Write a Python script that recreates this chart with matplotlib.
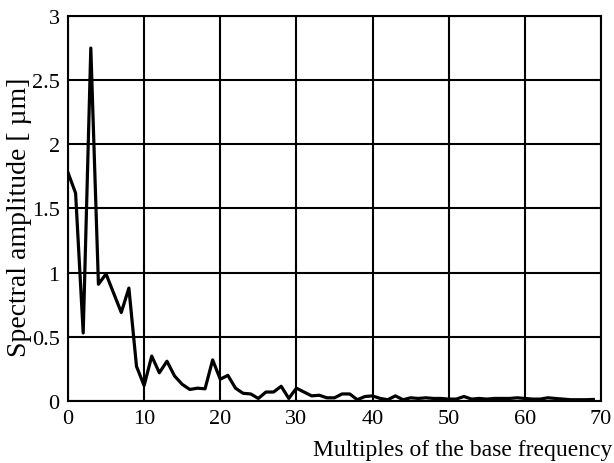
import numpy as np
import matplotlib.pyplot as plt

# harmonic number and amplitude
harmonic = np.arange(70)
amplitude = [1.78, 1.62, 0.53, 2.75, 0.91, 0.99, 0.84, 0.69, 0.88, 0.27,
             0.12, 0.35, 0.22, 0.31, 0.195, 0.13, 0.09, 0.10, 0.095, 0.32,
             0.17, 0.20, 0.10, 0.06, 0.055, 0.02, 0.07, 0.07, 0.115, 0.02,
             0.10, 0.07, 0.04, 0.045, 0.025, 0.025, 0.055, 0.055, 0.01, 0.035,
             0.04, 0.02, 0.01, 0.04, 0.01, 0.025, 0.02, 0.025, 0.02, 0.02,
             0.015, 0.015, 0.035, 0.015, 0.02, 0.015, 0.02, 0.02, 0.02, 0.025,
             0.02, 0.015, 0.015, 0.025, 0.02, 0.015, 0.01, 0.01, 0.01, 0.012]
xticks = [0, 10, 20, 30, 40, 50, 60, 70]
yticks = [0, 0.5, 1, 1.5, 2, 2.5, 3]
ytick_labels = ['0', '0.5', '1', '1.5', '2', '2.5', '3']

plt.rcParams['font.family'] = ['Liberation Serif', 'DejaVu Serif']

fig = plt.figure(figsize=(6.14, 4.64), dpi=100)
ax = fig.add_axes([0.1107, 0.1336, 0.8681, 0.8298])

ax.plot(harmonic, amplitude, color='black', lw=2.3, zorder=3)

ax.set_xlim(0, 70)
ax.set_ylim(0, 3)
ax.set_xticks(xticks)
ax.set_yticks(yticks)
ax.set_yticklabels(ytick_labels)
ax.grid(True, color='black', lw=1.5)
ax.tick_params(length=0, labelsize=16, pad=6)
for s in ax.spines.values():
    s.set_linewidth(1.5)

fig.text(0.031, 0.532, 'Spectral amplitude [ µm]', fontsize=20,
         rotation=90, ha='center', va='center')
fig.text(0.997, 0.03, 'Multiples of the base frequency', fontsize=17,
         ha='right', va='center')

fig.savefig('out.png', dpi=100)
